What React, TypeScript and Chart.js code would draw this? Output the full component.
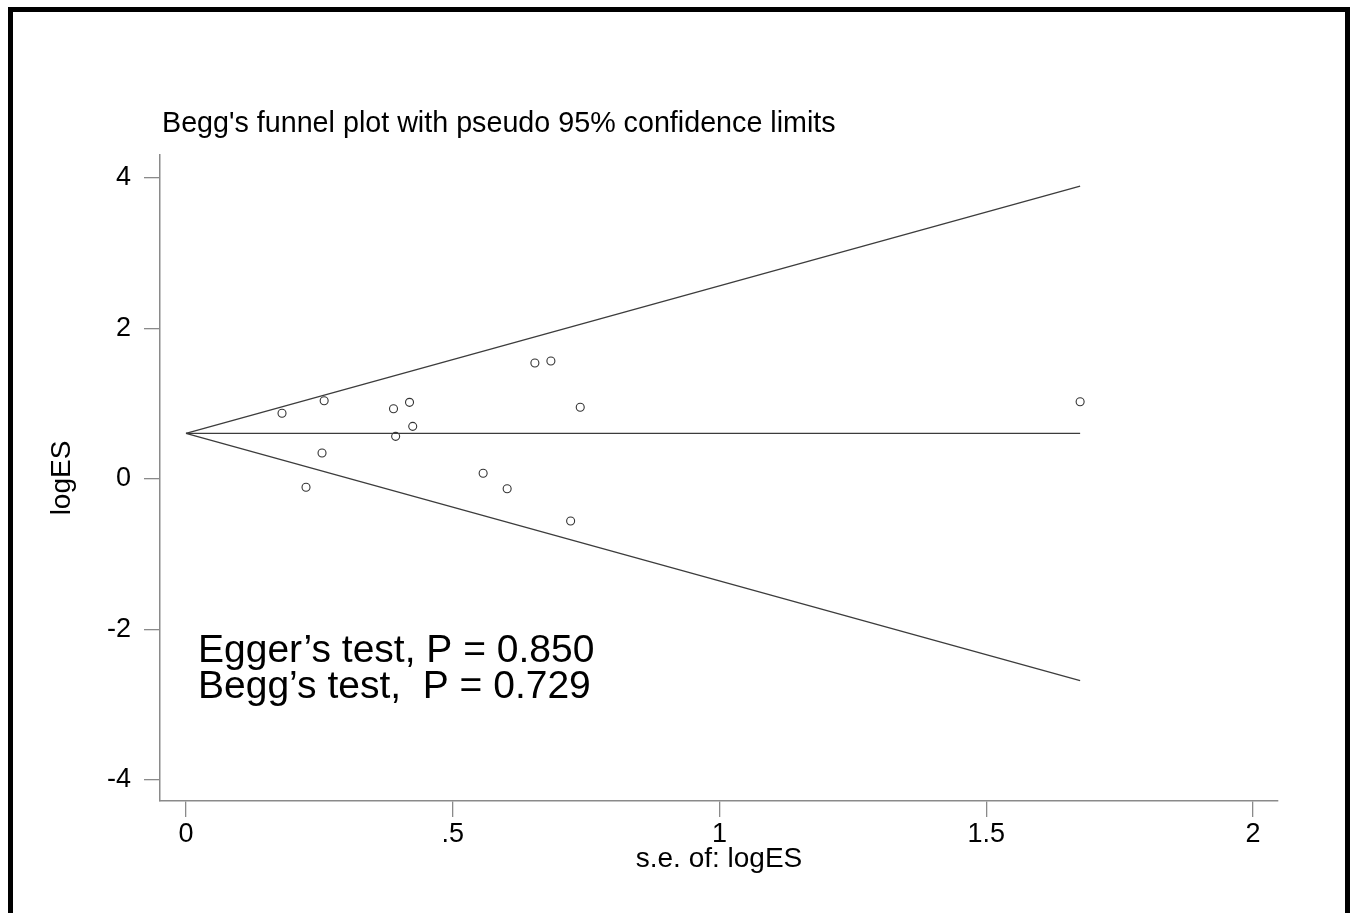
import { useEffect, useRef } from "react";
import { Chart, registerables } from "chart.js";

Chart.register(...registerables);

const FONT = "'Liberation Sans', Arial, Helvetica, sans-serif";

// Study points (s.e. of logES, logES)
const seValues = [0.18, 0.259, 0.225, 0.255, 0.389, 0.419, 0.393, 0.425, 0.557, 0.602, 0.654, 0.684, 0.739, 0.721, 1.676];
const logESValues = [0.873, 1.041, -0.11, 0.346, 0.934, 1.019, 0.567, 0.7, 0.076, -0.129, 1.541, 1.568, 0.953, -0.558, 1.027];

// Pseudo 95% confidence limits and pooled estimate (end points)
const limitSE = [0, 1.676];
const pooledLine = [0.607, 0.607];
const upperLimit = [0.607, 3.894];
const lowerLimit = [0.607, -2.68];

// Axes
const xTickValues = [0, 0.5, 1, 1.5, 2];
const xTickLabels = ["0", ".5", "1", "1.5", "2"];
const yTickValues = [-4, -2, 0, 2, 4];
const yTickLabels = ["-4", "-2", "0", "2", "4"];
const X_MIN = -0.0487;
const X_MAX = 2.0469;
const Y_MIN = -4.279;
const Y_MAX = 4.306;

const titleText = "Begg's funnel plot with pseudo 95% confidence limits";
const xAxisTitle = "s.e. of: logES";
const yAxisTitle = "logES";
const annotationLines = ["Egger\u2019s test, P = 0.850", "Begg\u2019s test,  P = 0.729"];

const toXY = (xs: number[], ys: number[]) => xs.map((x, i) => ({ x, y: ys[i] }));

const textPlugin = {
  id: "funnelTexts",
  afterDraw(chart: any) {
    const { ctx, chartArea } = chart;
    ctx.save();
    ctx.fillStyle = "#000";
    ctx.textAlign = "left";
    ctx.textBaseline = "alphabetic";
    ctx.font = `28.7px ${FONT}`;
    ctx.fillText(titleText, chartArea.left + 2, chartArea.top - 23);
    ctx.font = `39px ${FONT}`;
    ctx.fillText(annotationLines[0], chartArea.left + 38, chartArea.top + 507);
    ctx.fillText(annotationLines[1], chartArea.left + 38, chartArea.top + 543);
    ctx.restore();
  },
};

export default function App() {
  const ref = useRef<HTMLCanvasElement | null>(null);

  useEffect(() => {
    if (!ref.current) return;
    const lineStyle = {
      showLine: true,
      borderColor: "#3c3c3c",
      borderWidth: 1.3,
      pointRadius: 0,
      pointHoverRadius: 0,
      fill: false,
      tension: 0,
    };
    const chart = new Chart(ref.current, {
      type: "scatter",
      data: {
        datasets: [
          { label: "upper", data: toXY(limitSE, upperLimit), ...lineStyle },
          { label: "pooled", data: toXY(limitSE, pooledLine), ...lineStyle },
          { label: "lower", data: toXY(limitSE, lowerLimit), ...lineStyle },
          {
            label: "studies",
            data: toXY(seValues, logESValues),
            showLine: false,
            pointStyle: "circle",
            pointRadius: 4,
            pointBorderWidth: 1.1,
            pointBorderColor: "#333",
            pointBackgroundColor: "rgba(255,255,255,0)",
          },
        ],
      },
      options: {
        responsive: false,
        animation: false,
        events: [],
        layout: { padding: { top: 155, right: 74, left: 0, bottom: 0 } },
        plugins: {
          legend: { display: false },
          tooltip: { enabled: false },
          title: { display: false },
        },
        scales: {
          x: {
            type: "linear",
            min: X_MIN,
            max: X_MAX,
            afterFit: (s: any) => {
              s.height = 112;
            },
            afterBuildTicks: (s: any) => {
              s.ticks = xTickValues.map((v) => ({ value: v }));
            },
            ticks: {
              callback: (v: any) => xTickLabels[xTickValues.indexOf(Number(v))],
              font: { family: FONT, size: 27 },
              color: "#000",
              padding: 1,
              maxRotation: 0,
              autoSkip: false,
            },
            grid: { drawOnChartArea: false, drawTicks: true, tickLength: 16, color: "#8a8a8a", lineWidth: 1.3 },
            border: { display: true, color: "#8a8a8a", width: 1.5 },
            title: {
              display: true,
              text: xAxisTitle,
              font: { family: FONT, size: 28 },
              color: "#000",
              padding: { top: 0, bottom: 37 },
            },
          },
          y: {
            type: "linear",
            min: Y_MIN,
            max: Y_MAX,
            afterFit: (s: any) => {
              s.width = 160;
            },
            afterBuildTicks: (s: any) => {
              s.ticks = yTickValues.map((v) => ({ value: v }));
            },
            ticks: {
              callback: (v: any) => yTickLabels[yTickValues.indexOf(Number(v))],
              font: { family: FONT, size: 27 },
              color: "#000",
              padding: 13,
              autoSkip: false,
            },
            grid: { drawOnChartArea: false, drawTicks: true, tickLength: 16, color: "#8a8a8a", lineWidth: 1.3 },
            border: { display: true, color: "#8a8a8a", width: 1.5 },
            title: {
              display: true,
              text: yAxisTitle,
              font: { family: FONT, size: 28 },
              color: "#000",
              padding: { top: 45, bottom: 0 },
            },
          },
        },
      },
      plugins: [textPlugin],
    } as any);
    return () => chart.destroy();
  }, []);

  return (
    <div
      style={{
        position: "fixed",
        left: 0,
        top: 0,
        width: 1352,
        height: 913,
        background: "#fff",
        overflow: "hidden",
      }}
    >
      <div
        style={{
          position: "absolute",
          left: 8,
          top: 7,
          width: 1342,
          height: 1000,
          border: "5px solid #000",
          boxSizing: "border-box",
        }}
      />
      <canvas
        ref={ref}
        width={1352}
        height={913}
        style={{ position: "absolute", left: 0, top: 0, width: 1352, height: 913 }}
      />
    </div>
  );
}
